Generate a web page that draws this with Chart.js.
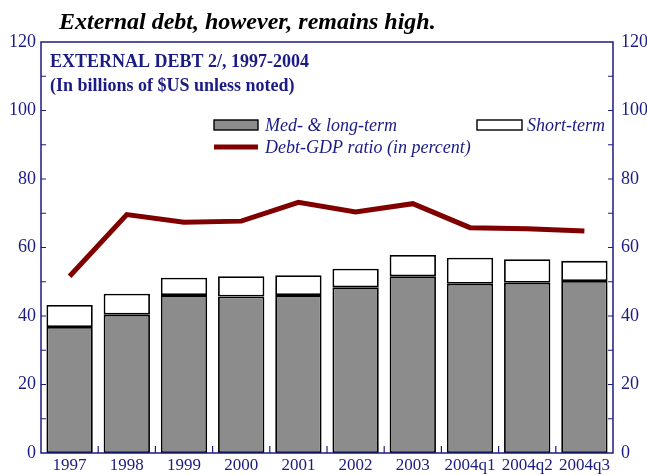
<!DOCTYPE html>
<html lang="en">
<head>
    <meta charset="UTF-8">
    <title>External debt</title>
    <script src="https://cdn.jsdelivr.net/npm/chart.js"></script>
    <style>
        body { margin: 0; padding: 0; background: white; }
        #wrap { width: 647px; height: 475px; }
    </style>
</head>
<body>
    <div id="wrap"><canvas id="debtChart" width="647" height="475"></canvas></div>

    <script>
        // data
        const categories = ['1997', '1998', '1999', '2000', '2001', '2002', '2003', '2004q1', '2004q2', '2004q3'];
        const medLongTerm = [36.8, 40.4, 46.1, 45.7, 46.1, 48.4, 51.6, 49.4, 49.7, 50.2];
        const shortTerm = [6.4, 6.1, 5.1, 5.9, 5.8, 5.4, 6.2, 7.6, 6.9, 5.9];
        const debtGdpRatio = [51.6, 69.6, 67.4, 67.7, 73.2, 70.4, 72.8, 65.8, 65.5, 64.8];

        const NAVY = '#1b1b84';
        const SERIF = '"Liberation Serif", "DejaVu Serif", serif';

        // frame, inward ticks, titles and legend
        const decorPlugin = {
            id: 'decor',
            afterDraw(chart) {
                const ctx = chart.ctx;
                const a = chart.chartArea;
                const y = chart.scales.y;
                const x = chart.scales.x;
                ctx.save();

                ctx.strokeStyle = NAVY;
                ctx.lineWidth = 1.5;
                ctx.strokeRect(a.left, a.top, a.right - a.left, a.bottom - a.top);

                // ticks every 10 on both sides
                ctx.lineWidth = 1.2;
                for (let v = 10; v < 120; v += 10) {
                    const py = y.getPixelForValue(v);
                    ctx.beginPath();
                    ctx.moveTo(a.left, py); ctx.lineTo(a.left + 5, py);
                    ctx.moveTo(a.right, py); ctx.lineTo(a.right - 5, py);
                    ctx.stroke();
                }
                // ticks between categories
                for (let i = 1; i < categories.length; i++) {
                    const px = (x.getPixelForValue(i - 1) + x.getPixelForValue(i)) / 2;
                    ctx.beginPath();
                    ctx.moveTo(px, a.bottom); ctx.lineTo(px, a.bottom - 7);
                    ctx.stroke();
                }

                // headline
                ctx.fillStyle = '#000';
                ctx.font = 'italic bold 24px ' + SERIF;
                ctx.textBaseline = 'alphabetic';
                ctx.fillText('External debt, however, remains high.', 59, 29);

                // inner title
                ctx.fillStyle = NAVY;
                ctx.font = 'bold 18px ' + SERIF;
                ctx.fillText('EXTERNAL DEBT 2/, 1997-2004', 50, 67);
                ctx.fillText('(In billions of $US unless noted)', 50, 91);

                // legend
                ctx.font = 'italic 18px ' + SERIF;
                ctx.lineWidth = 1.4;
                ctx.strokeStyle = '#000';
                ctx.fillStyle = '#8c8c8c';
                ctx.fillRect(214, 120, 44, 10);
                ctx.strokeRect(214, 120, 44, 10);
                ctx.fillStyle = '#fff';
                ctx.fillRect(477, 120, 45, 10);
                ctx.strokeRect(477, 120, 45, 10);
                ctx.strokeStyle = '#800000';
                ctx.lineWidth = 5;
                ctx.beginPath();
                ctx.moveTo(214, 147); ctx.lineTo(258, 147);
                ctx.stroke();
                ctx.fillStyle = NAVY;
                ctx.fillText('Med- & long-term', 265, 131);
                ctx.fillText('Short-term', 527, 131);
                ctx.fillText('Debt-GDP ratio (in percent)', 265, 153);

                ctx.restore();
            }
        };

        const tickFont = { family: SERIF, size: 18 };

        new Chart(document.getElementById('debtChart'), {
            data: {
                labels: categories,
                datasets: [
                    {
                        type: 'line',
                        label: 'Debt-GDP ratio (in percent)',
                        data: debtGdpRatio,
                        yAxisID: 'y2',
                        borderColor: '#800000',
                        borderWidth: 5,
                        pointRadius: 0,
                        tension: 0,
                        order: 0
                    },
                    {
                        type: 'bar',
                        label: 'Med- & long-term',
                        data: medLongTerm,
                        backgroundColor: '#8c8c8c',
                        borderColor: '#000',
                        borderWidth: 1.8,
                        borderSkipped: false,
                        barPercentage: 0.81,
                        categoryPercentage: 1,
                        order: 1
                    },
                    {
                        type: 'bar',
                        label: 'Short-term',
                        data: shortTerm,
                        backgroundColor: '#ffffff',
                        borderColor: '#000',
                        borderWidth: 1.8,
                        borderSkipped: false,
                        barPercentage: 0.81,
                        categoryPercentage: 1,
                        order: 1
                    }
                ]
            },
            options: {
                responsive: false,
                animation: false,
                devicePixelRatio: 1,
                layout: { padding: { top: 42, left: 0, right: 0, bottom: 0 } },
                plugins: {
                    legend: { display: false },
                    tooltip: { enabled: false }
                },
                scales: {
                    x: {
                        stacked: true,
                        grid: { display: false, drawTicks: false },
                        border: { display: false },
                        ticks: { color: NAVY, font: { family: SERIF, size: 17 }, padding: 2, maxRotation: 0, autoSkip: false },
                        afterFit: s => { s.height = 22; }
                    },
                    y: {
                        stacked: true,
                        min: 0, max: 120,
                        grid: { display: false, drawTicks: false },
                        border: { display: false },
                        ticks: { stepSize: 20, color: NAVY, font: tickFont, padding: 5 },
                        afterFit: s => { s.width = 41; }
                    },
                    y2: {
                        position: 'right',
                        min: 0, max: 120,
                        grid: { display: false, drawTicks: false },
                        border: { display: false },
                        ticks: { stepSize: 20, color: NAVY, font: tickFont, padding: 8 },
                        afterFit: s => { s.width = 34; }
                    }
                }
            },
            plugins: [decorPlugin]
        });
    </script>
</body>
</html>
